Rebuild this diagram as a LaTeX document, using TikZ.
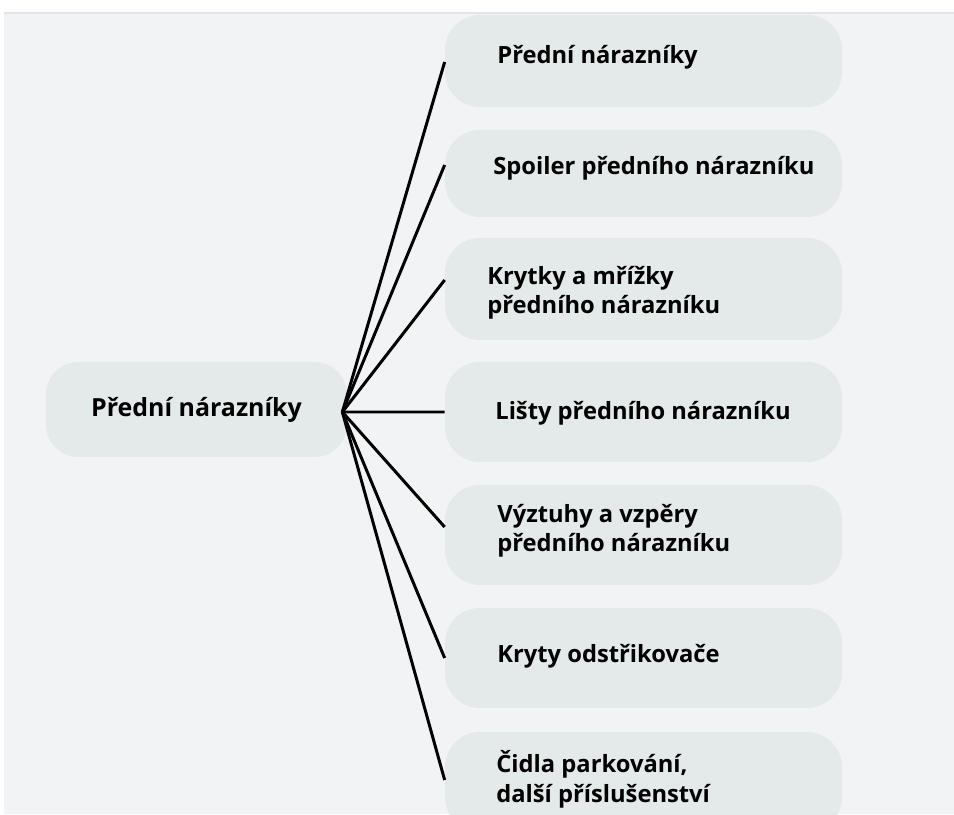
\documentclass[tikz,border=0pt]{standalone}
\usepackage{fontspec}
\setmainfont{Open Sans}
\usetikzlibrary{positioning}
\definecolor{NzBack}{RGB}{242,243,245}
\definecolor{NzEdge}{RGB}{226,228,233}
\definecolor{NzFill}{RGB}{228,233,233}
\tikzset{
  nz/root/.style={
    fill=NzFill,
    rounded corners=0.65cm,
    minimum width=6.02cm,
    minimum height=1.9cm,
    inner sep=0pt,
    font=\fontsize{14.2}{18}\selectfont\bfseries
  },
  nz/box/.style={
    fill=NzFill,
    rounded corners=0.7cm,
    minimum width=7.94cm,
    minimum height=2cm,
    inner sep=0pt
  },
  nz/text/.style={
    anchor=base west,
    align=left,
    inner sep=0pt,
    font=\fontsize{13.5}{17}\selectfont\bfseries
  },
  nz/line/.style={line width=1.7pt, draw=black}
}

\begin{document}
\begin{tikzpicture}[x=1cm,y=1cm]
  \useasboundingbox (0,0) rectangle (19.08,16.28);
  \clip (0,0) rectangle (19.08,16.28);
  % page background
  \fill[white] (0,0) rectangle (19.08,16.28);
  \fill[NzBack] (0.08,0) rectangle (19.08,16.02);
  \draw[NzEdge, line width=0.6pt] (0.08,16.02) -- (19.08,16.02);

  \node[nz/root] (root) at (3.93,8.09) {Přední nárazníky};

  \node[nz/box, minimum height=1.84cm] (b1) at (12.87,15.06) {};
  \node[nz/box, minimum height=1.74cm] (b2) at (12.87,12.81) {};
  \node[nz/box, minimum height=2.04cm] (b3) at (12.87,10.50) {};
  \node[nz/box] (b4) at (12.87,8.04) {};
  \node[nz/box] (b5) at (12.87,5.58) {};
  \node[nz/box] (b6) at (12.87,3.12) {};
  \node[nz/box] (b7) at (12.87,0.64) {};

  % base anchor sits on the last line
  \node[nz/text] (t1) at (9.94,15.00) {Přední nárazníky};
  \node[nz/text] (t2) at (9.86,12.78) {Spoiler předního nárazníku};
  \node[nz/text] (t3) at (9.74,10.00) {Krytky a mřížky\\předního nárazníku};
  \node[nz/text] (t4) at (9.90,7.88) {Lišty předního nárazníku};
  \node[nz/text] (t5) at (9.94,5.24) {Výztuhy a vzpěry\\předního nárazníku};
  \node[nz/text] (t6) at (9.94,3.02) {Kryty odstřikovače};
  \node[nz/text] (t7) at (9.92,0.24) {Čidla parkování,\\další příslušenství};

  \foreach \b/\dy in {b1/-0.02,b2/0.17,b3/0.18,b4/0,b5/0.16,b6/0,b7/0.04}
    \draw[nz/line] ([xshift=-0.1cm,yshift=-0.05cm]root.east) -- ([yshift=\dy cm]\b.west);
\end{tikzpicture}
\end{document}
